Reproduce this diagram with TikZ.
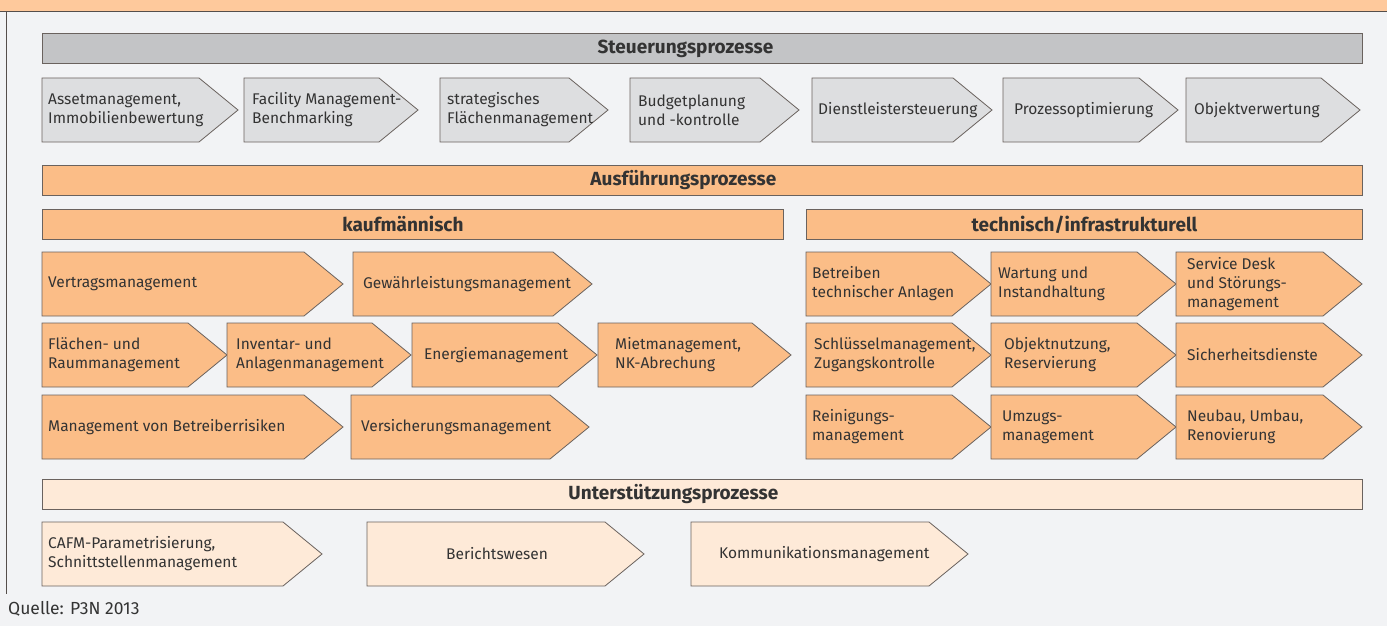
\documentclass[tikz,border=0pt]{standalone}
\usepackage{fontspec}
\setmainfont{Fira Sans}
\definecolor{hgrund}{HTML}{F2F3F5}
\definecolor{kopf}{HTML}{FEC99C}
\definecolor{grauleiste}{HTML}{C3C4C6}
\definecolor{graupfeil}{HTML}{DDDEE0}
\definecolor{orange}{HTML}{FBBD87}
\definecolor{hellorange}{HTML}{FEEAD8}
\definecolor{rahmen}{HTML}{6A625E}
\definecolor{schrift}{HTML}{333333}
\tikzset{
  rand/.style={draw=rahmen, line width=0.8pt},
  leiste/.style={rand, minimum height=30pt, inner sep=0pt, anchor=north west},
  titel/.style={font=\fontsize{19}{22}\selectfont\bfseries, text=schrift, inner sep=0pt},
  txt/.style={font=\fontsize{15.5}{19}\selectfont, text=schrift, align=left,
    inner sep=0pt, anchor=west},
}
\begin{document}
\begin{tikzpicture}[x=1pt,y=-1pt]
  \useasboundingbox (0,0) rectangle (1387,626);
  \fill[hgrund] (0,0) rectangle (1387,626);
  % Kopfzeile und Rand
  \fill[kopf] (0,0) rectangle (1387,11);
  \draw[rahmen!80!black, line width=1.4pt] (0,11.7) -- (1387,11.7);
  \draw[rahmen!80!black, line width=1.2pt] (6.6,12) -- (6.6,594);
  % Leisten
  \node[leiste, fill=grauleiste, minimum width=1320pt] (steuer) at (42,33) {};
  \node[titel] at ([xshift=-17pt]steuer.center) {Steuerungsprozesse};
  \node[leiste, fill=orange, minimum width=1320pt] (ausf) at (42,165) {};
  \node[titel] at ([xshift=-19pt]ausf.center) {Ausführungsprozesse};
  \node[leiste, fill=orange, minimum width=741pt] (kauf) at (42,209) {};
  \node[titel] at ([xshift=-10pt]kauf.center) {kaufmännisch};
  \node[leiste, fill=orange, minimum width=556pt] (tech) at (806,209) {};
  \node[titel] at (tech.center) {technisch/infrastrukturell};
  \node[leiste, fill=hellorange, minimum width=1320pt] (unter) at (42,479) {};
  \node[titel] at ([xshift=-29pt]unter.center) {Unterstützungsprozesse};
  % Steuerungsprozesse
  \foreach \xa/\xb/\xt/\nm/\txt in {
      42/238/48/asset/{Assetmanagement,\\Immobilienbewertung},
      244/418/252/bench/{Facility Management-\\Benchmarking},
      440/608/447/flaeche/{strategisches\\Flächenmanagement},
      630/799/638/budget/{Budgetplanung\\und -kontrolle},
      812/992/818/dienst/{Dienstleistersteuerung},
      1003/1178/1014/optim/{Prozessoptimierung},
      1186/1360/1194/verwert/{Objektverwertung}} {
    \draw[rand, fill=graupfeil] (\xa,78) -- (\xb-39,78) -- (\xb,110)
      -- (\xb-39,142) -- (\xa,142) -- cycle;
    \node[txt] (\nm) at (\xt,110) {\txt};
  }
  % Ausfuehrungsprozesse
  \foreach \xa/\xb/\y/\xt/\nm/\txt in {
      42/343/252/48/vertrag/{Vertragsmanagement},
      353/592/252/363/gewaehr/{Gewährleistungsmanagement},
      42/227/323/48/raum/{Flächen- und\\Raummanagement},
      227/411/323/236/inventar/{Inventar- und\\Anlagenmanagement},
      412/597/323/424/energie/{Energiemanagement},
      598/791/323/615/miete/{Mietmanagement,\\NK-Abrechung},
      42/343/395/48/risiko/{Management von Betreiberrisiken},
      351/589/395/361/versich/{Versicherungsmanagement},
      806/991/252/812/betrieb/{Betreiben\\technischer Anlagen},
      991/1176/252/998/wartung/{Wartung und\\Instandhaltung},
      1176/1362/252/1187/desk/{Service Desk\\und Störungs-\\management},
      806/991/323/814/schluessel/{Schlüsselmanagement,\\Zugangskontrolle},
      991/1176/323/1004/nutzung/{Objektnutzung,\\Reservierung},
      1176/1362/323/1187/sicher/{Sicherheitsdienste},
      806/991/395/812/reinig/{Reinigungs-\\management},
      991/1176/395/1002/umzug/{Umzugs-\\management},
      1176/1362/395/1187/neubau/{Neubau, Umbau,\\Renovierung}} {
    \draw[rand, fill=orange] (\xa,\y) -- (\xb-39,\y) -- (\xb,\y+32)
      -- (\xb-39,\y+64) -- (\xa,\y+64) -- cycle;
    \node[txt] (\nm) at (\xt,\y+32) {\txt};
  }
  % Unterstuetzungsprozesse
  \foreach \xa/\xb/\xt/\nm/\txt in {
      42/322/48/cafm/{CAFM-Parametrisierung,\\Schnittstellenmanagement},
      367/644/446/bericht/{Berichtswesen},
      691/968/719/kommu/{Kommunikationsmanagement}} {
    \draw[rand, fill=hellorange] (\xa,522) -- (\xb-39,522) -- (\xb,554)
      -- (\xb-39,586) -- (\xa,586) -- cycle;
    \node[txt] (\nm) at (\xt,554) {\txt};
  }
  \node[txt, font=\fontsize{17.5}{20}\selectfont] (quelle) at (8,609) {Quelle: P3N 2013};
\end{tikzpicture}
\end{document}
